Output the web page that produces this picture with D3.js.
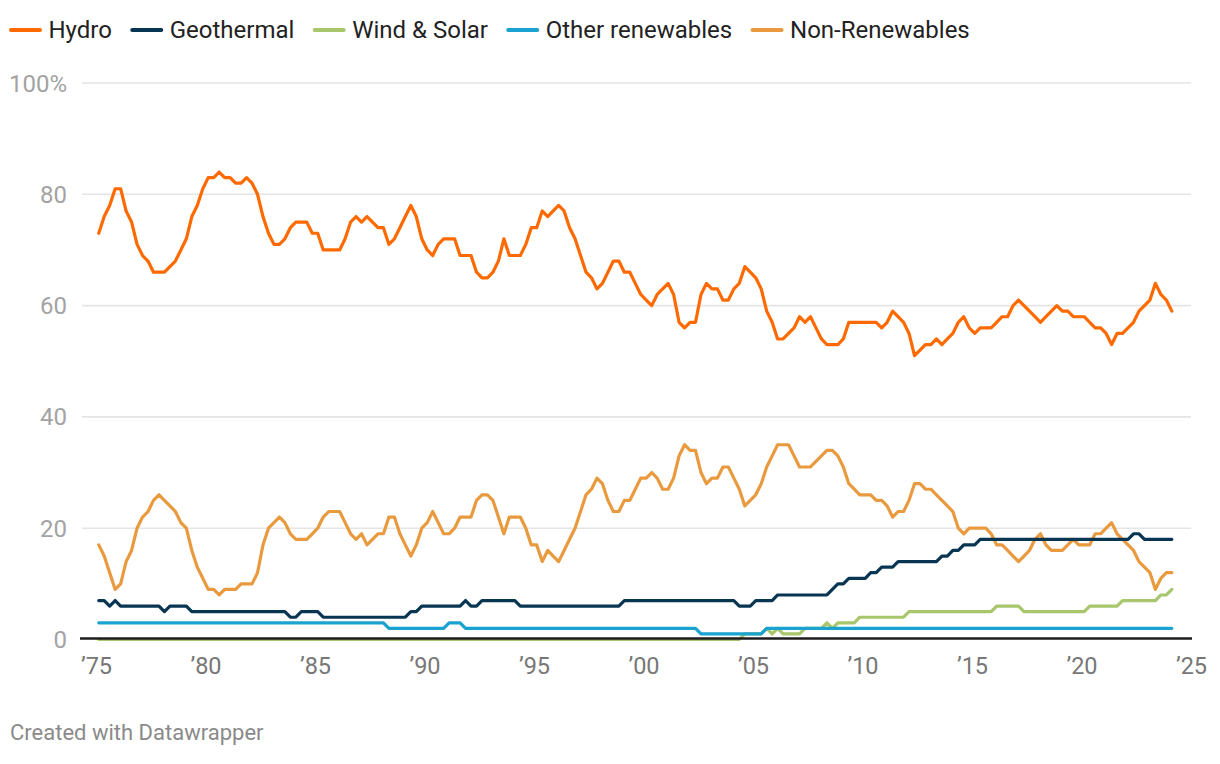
<!DOCTYPE html>
<html>
<head>
<meta charset="utf-8">
<script src="https://cdn.jsdelivr.net/npm/d3@7"></script>
<style>
  html, body { margin: 0; padding: 0; background: #fff; }
  svg { display: block; font-family: Roboto, "Noto Sans", sans-serif; }
</style>
</head>
<body>
<svg id="chart" width="1220" height="764"></svg>
<script>
// ---- DATA (quarterly share of generation, %, 1975 Q1 – 2024 Q1) ----
const startYear = 1975;
const quarterCount = 197;

const hydro = [
  73,76,78,81,81,77,75,71,69,68, 66,66,66,67,68,70,72,76,78,81,
  83,83,84,83,83,82,82,83,82,80, 76,73,71,71,72,74,75,75,75,73,
  73,70,70,70,70,72,75,76,75,76, 75,74,74,71,72,74,76,78,76,72,
  70,69,71,72,72,72,69,69,69,66, 65,65,66,68,72,69,69,69,71,74,
  74,77,76,77,78,77,74,72,69,66, 65,63,64,66,68,68,66,66,64,62,
  61,60,62,63,64,62,57,56,57,57, 62,64,63,63,61,61,63,64,67,66,
  65,63,59,57,54,54,55,56,58,57, 58,56,54,53,53,53,54,57,57,57,
  57,57,57,56,57,59,58,57,55,51, 52,53,53,54,53,54,55,57,58,56,
  55,56,56,56,57,58,58,60,61,60, 59,58,57,58,59,60,59,59,58,58,
  58,57,56,56,55,53,55,55,56,57, 59,60,61,64,62,61,59
];

const geothermal = [
  7,7,6,7,6,6,6,6,6,6, 6,6,5,6,6,6,6,5,5,5,
  5,5,5,5,5,5,5,5,5,5, 5,5,5,5,5,4,4,5,5,5,
  5,4,4,4,4,4,4,4,4,4, 4,4,4,4,4,4,4,5,5,6,
  6,6,6,6,6,6,6,7,6,6, 7,7,7,7,7,7,7,6,6,6,
  6,6,6,6,6,6,6,6,6,6, 6,6,6,6,6,6,7,7,7,7,
  7,7,7,7,7,7,7,7,7,7, 7,7,7,7,7,7,7,6,6,6,
  7,7,7,7,8,8,8,8,8,8, 8,8,8,8,9,10,10,11,11,11,
  11,12,12,13,13,13,14,14,14,14, 14,14,14,14,15,15,16,16,17,17,
  17,18,18,18,18,18,18,18,18,18, 18,18,18,18,18,18,18,18,18,18,
  18,18,18,18,18,18,18,18,18,19, 19,18,18,18,18,18,18
];

const windSolar = [
  0,0,0,0,0,0,0,0,0,0, 0,0,0,0,0,0,0,0,0,0,
  0,0,0,0,0,0,0,0,0,0, 0,0,0,0,0,0,0,0,0,0,
  0,0,0,0,0,0,0,0,0,0, 0,0,0,0,0,0,0,0,0,0,
  0,0,0,0,0,0,0,0,0,0, 0,0,0,0,0,0,0,0,0,0,
  0,0,0,0,0,0,0,0,0,0, 0,0,0,0,0,0,0,0,0,0,
  0,0,0,0,0,0,0,0,0,0, 0,0,0,0,0,0,0,0,1,1,
  1,1,2,1,2,1,1,1,1,2, 2,2,2,3,2,3,3,3,3,4,
  4,4,4,4,4,4,4,4,5,5, 5,5,5,5,5,5,5,5,5,5,
  5,5,5,5,6,6,6,6,6,5, 5,5,5,5,5,5,5,5,5,5,
  5,6,6,6,6,6,6,7,7,7, 7,7,7,7,8,8,9
];

const otherRenewables = [
  3,3,3,3,3,3,3,3,3,3, 3,3,3,3,3,3,3,3,3,3,
  3,3,3,3,3,3,3,3,3,3, 3,3,3,3,3,3,3,3,3,3,
  3,3,3,3,3,3,3,3,3,3, 3,3,3,2,2,2,2,2,2,2,
  2,2,2,2,3,3,3,2,2,2, 2,2,2,2,2,2,2,2,2,2,
  2,2,2,2,2,2,2,2,2,2, 2,2,2,2,2,2,2,2,2,2,
  2,2,2,2,2,2,2,2,2,2, 1,1,1,1,1,1,1,1,1,1,
  1,1,2,2,2,2,2,2,2,2, 2,2,2,2,2,2,2,2,2,2,
  2,2,2,2,2,2,2,2,2,2, 2,2,2,2,2,2,2,2,2,2,
  2,2,2,2,2,2,2,2,2,2, 2,2,2,2,2,2,2,2,2,2,
  2,2,2,2,2,2,2,2,2,2, 2,2,2,2,2,2,2
];

const nonRenewables = [
  17,15,12,9,10,14,16,20,22,23, 25,26,25,24,23,21,20,16,13,11,
  9,9,8,9,9,9,10,10,10,12, 17,20,21,22,21,19,18,18,18,19,
  20,22,23,23,23,21,19,18,19,17, 18,19,19,22,22,19,17,15,17,20,
  21,23,21,19,19,20,22,22,22,25, 26,26,25,22,19,22,22,22,20,17,
  17,14,16,15,14,16,18,20,23,26, 27,29,28,25,23,23,25,25,27,29,
  29,30,29,27,27,29,33,35,34,34, 30,28,29,29,31,31,29,27,24,25,
  26,28,31,33,35,35,35,33,31,31, 31,32,33,34,34,33,31,28,27,26,
  26,26,25,25,24,22,23,23,25,28, 28,27,27,26,25,24,23,20,19,20,
  20,20,20,19,17,17,16,15,14,15, 16,18,19,17,16,16,16,17,18,17,
  17,17,19,19,20,21,19,18,17,16, 14,13,12,9,11,12,12
];

const seriesNames = ["Hydro", "Geothermal", "Wind & Solar", "Other renewables", "Non-Renewables"];
const seriesColors = ["#ff6a00", "#083552", "#a8c66b", "#1aa2d0", "#e99a3e"];
const seriesValues = [hydro, geothermal, windSolar, otherRenewables, nonRenewables];

const xTickYears = [1975, 1980, 1985, 1990, 1995, 2000, 2005, 2010, 2015, 2020, 2025];
const xTickLabels = ["’75", "’80", "’85", "’90", "’95", "’00", "’05", "’10", "’15", "’20", "’25"];
const yTicks = [0, 20, 40, 60, 80, 100];
const yTickLabels = ["0", "20", "40", "60", "80", "100%"];

// quarter positions (mid-quarter, in fractional years)
const quarterTimes = d3.range(quarterCount).map(i => startYear + Math.floor(i / 4) + (i % 4) / 4 + 0.125);

// ---- LAYOUT ----
const svg = d3.select("#chart");
const x = d3.scaleLinear().domain([1975, 2025]).range([96, 1191]);
const y = d3.scaleLinear().domain([0, 100]).range([639.5, 83]);
const gridX0 = 82, gridX1 = 1191;

// gridlines
svg.append("g").selectAll("line")
  .data(yTicks.filter(d => d !== 0))
  .join("line")
  .attr("x1", gridX0).attr("x2", gridX1)
  .attr("y1", d => y(d)).attr("y2", d => y(d))
  .attr("stroke", "#e5e5e5").attr("stroke-width", 1.6);

// y labels
svg.append("g").selectAll("text")
  .data(yTicks)
  .join("text")
  .attr("x", 67)
  .attr("y", d => y(d) + 8.5)
  .attr("text-anchor", "end")
  .attr("font-size", 24)
  .attr("fill", "#a3a3a3")
  .text((d, i) => yTickLabels[i]);

// x labels
const xAxis = d3.axisBottom(x).tickValues(xTickYears).tickFormat((d, i) => xTickLabels[i]).tickSize(0).tickPadding(0);
const gx = svg.append("g").attr("transform", "translate(0,652)").call(xAxis);
gx.select(".domain").remove();
gx.selectAll("text").attr("font-size", 23.5).attr("fill", "#777").attr("font-family", "Roboto, sans-serif").attr("dy", null).attr("y", 21.5);

// lines
const line = d3.line()
  .x((d, i) => x(quarterTimes[i]))
  .y(d => y(d))
  .curve(d3.curveLinear);

const drawOrder = [4, 2, 3, 1, 0];
svg.append("g").selectAll("path")
  .data(drawOrder)
  .join("path")
  .attr("d", k => line(seriesValues[k]))
  .attr("fill", "none")
  .attr("stroke", k => seriesColors[k])
  .attr("stroke-width", 3.2)
  .attr("stroke-linejoin", "round")
  .attr("stroke-linecap", "round");

// baseline
svg.append("line")
  .attr("x1", 80).attr("x2", 1192)
  .attr("y1", y(0) - 1).attr("y2", y(0) - 1)
  .attr("stroke", "#1d1d1d").attr("stroke-width", 2.4);

// legend
const legend = svg.append("g");
let lx = 11;
seriesNames.forEach((name, i) => {
  legend.append("line")
    .attr("x1", lx).attr("x2", lx + 29)
    .attr("y1", 30).attr("y2", 30)
    .attr("stroke", seriesColors[i]).attr("stroke-width", 4)
    .attr("stroke-linecap", "round");
  const t = legend.append("text")
    .attr("x", lx + 37.5).attr("y", 38)
    .attr("font-size", 24).attr("fill", "#222")
    .text(name);
  lx = lx + 37.5 + t.node().getComputedTextLength() + 20.3;
});

// footer
svg.append("text")
  .attr("x", 10).attr("y", 740)
  .attr("font-size", 22).attr("fill", "#8a8a8a")
  .text("Created with Datawrapper");
</script>
</body>
</html>
